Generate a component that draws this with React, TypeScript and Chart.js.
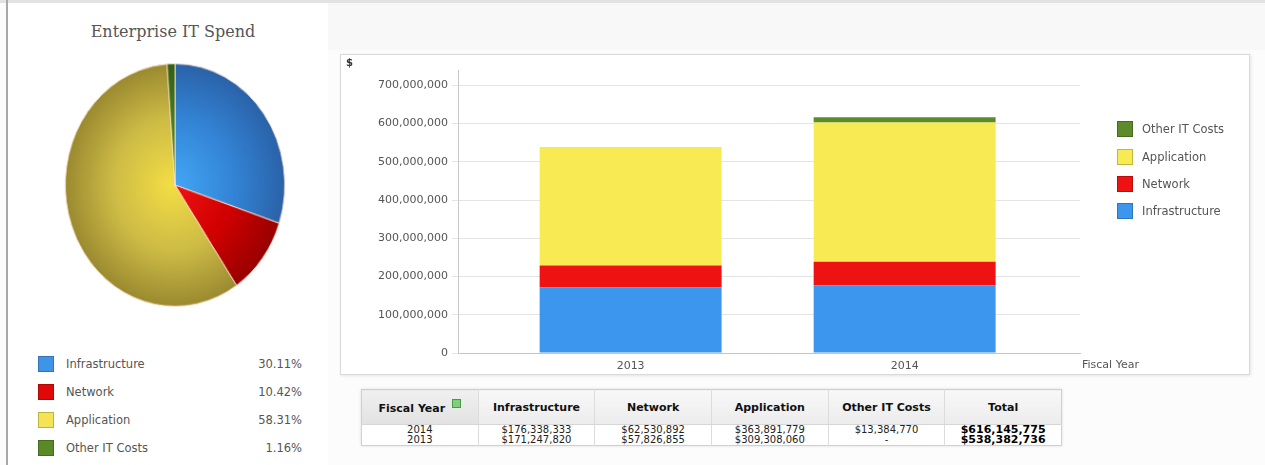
import React, { useEffect, useRef } from "react";
import { Chart, registerables } from "chart.js";

Chart.register(...registerables);

// Fiscal years shown on the bar chart's horizontal axis
const fiscalYears = ["2013", "2014"];

// Spend per cost category, one value per fiscal year (2013, 2014)
const infrastructureSpend = [171247820, 176338333];
const networkSpend = [57826855, 62530892];
const applicationSpend = [309308060, 363891779];
const otherItSpend: (number | null)[] = [null, 13384770];

// Totals as reported per fiscal year (2013, 2014)
const reportedTotals = [538382736, 616145775];

const categoryNames = ["Infrastructure", "Network", "Application", "Other IT Costs"];

// Value axis ticks
const yTickValues = [0, 100000000, 200000000, 300000000, 400000000, 500000000, 600000000, 700000000];

const seriesValues = [infrastructureSpend, networkSpend, applicationSpend, otherItSpend];

// Colours
const barColors = ["#3d96ee", "#ee1212", "#f8ea52", "#5d8a2a"];
const swatchColors = ["#3f94e6", "#e00808", "#f4e455", "#5a8a28"];
const pieInner = ["#44a8f6", "#f01414", "#f4de44", "#5c9a2c"];
const pieMid = ["#3384d6", "#d00000", "#cdbb46", "#467a20"];
const pieOuter = ["#2a62a8", "#980000", "#9a8a30", "#335f14"];

const FONT = '"DejaVu Sans", "Noto Sans", sans-serif';

const pieValues = seriesValues.map((arr) => arr.reduce((a: number, b) => a + (b ?? 0), 0));
const pieTotal = pieValues.reduce((a, b) => a + b, 0);

const money = (v: number | null) => (v == null ? "-" : "$" + v.toLocaleString("en-US"));

function SpendPie() {
  const ref = useRef<HTMLCanvasElement>(null);
  useEffect(() => {
    const chart = new Chart(ref.current!, {
      type: "pie",
      data: {
        labels: categoryNames,
        datasets: [
          {
            data: pieValues,
            backgroundColor: (ctx: any) => {
              const c = ctx.chart;
              const a = c.chartArea;
              const i = ctx.dataIndex;
              if (!a) return pieMid[i];
              const cx = (a.left + a.right) / 2;
              const cy = (a.top + a.bottom) / 2;
              const r = Math.min(a.width, a.height) / 2;
              const g = c.ctx.createRadialGradient(cx - 4, cy, 0, cx, cy, r);
              g.addColorStop(0, pieInner[i]);
              g.addColorStop(0.55, pieMid[i]);
              g.addColorStop(1, pieOuter[i]);
              return g;
            },
            borderColor: "rgba(255,226,206,0.85)",
            borderWidth: 1,
          },
        ],
      },
      options: {
        responsive: false,
        animation: false,
        layout: { padding: 0 },
        plugins: { legend: { display: false }, tooltip: { enabled: false } },
      },
    } as any);
    return () => chart.destroy();
  }, []);
  return (
    <canvas
      ref={ref}
      width={232}
      height={232}
      style={{ position: "absolute", left: 59, top: 69, transform: "scale(0.95,1.05)" }}
    />
  );
}

function SpendBars() {
  const ref = useRef<HTMLCanvasElement>(null);
  useEffect(() => {
    const tickFont = { family: FONT, size: 11 };
    const chart = new Chart(ref.current!, {
      type: "bar",
      data: {
        datasets: categoryNames.map((name, i) => ({
          label: name,
          data: fiscalYears.map((fy, j) => ({ x: Number(fy), y: seriesValues[i][j] })),
          backgroundColor: barColors[i],
          borderWidth: 0,
          categoryPercentage: 1,
          barPercentage: 0.664,
        })),
      },
      options: {
        responsive: false,
        animation: false,
        layout: { padding: { top: 15, right: 169, left: 0, bottom: 0 } },
        plugins: { legend: { display: false }, tooltip: { enabled: false } },
        scales: {
          x: {
            type: "linear",
            stacked: true,
            min: 2012.37,
            max: 2014.64,
            offset: false,
            afterBuildTicks: (s: any) => {
              s.ticks = fiscalYears.map((fy) => ({ value: Number(fy) }));
            },
            afterFit: (s: any) => {
              s.height = 21;
            },
            ticks: {
              callback: (v: any) => fiscalYears.find((fy) => Number(fy) === v) ?? "",
              font: tickFont,
              color: "#555",
              padding: 7,
              maxRotation: 0,
              autoSkip: false,
            },
            grid: { display: false, drawTicks: false, offset: false },
            border: { display: true, color: "#c4c4c4" },
          },
          y: {
            stacked: true,
            min: 0,
            max: 740000000,
            afterBuildTicks: (s: any) => {
              s.ticks = yTickValues.map((v) => ({ value: v }));
            },
            afterFit: (s: any) => {
              s.width = 117;
            },
            ticks: {
              callback: (v: any) => Number(v).toLocaleString("en-US"),
              font: tickFont,
              color: "#555",
              padding: 4,
            },
            grid: { color: "#e4e4e4", tickLength: 6, drawTicks: true },
            border: { display: true, color: "#c8c8c8" },
          },
        },
      },
    } as any);
    return () => chart.destroy();
  }, []);
  return (
    <canvas ref={ref} width={908} height={319} style={{ position: "absolute", left: 341, top: 55 }} />
  );
}

function Swatch({ color, left, top, size }: { color: string; left: number; top: number; size: number }) {
  return (
    <div
      style={{
        position: "absolute",
        left,
        top,
        width: size,
        height: size,
        boxSizing: "border-box",
        background: color,
        border: "1px solid rgba(0,0,0,0.22)",
      }}
    />
  );
}

export default function App() {
  const pieLegendRows = [364, 392, 420, 448];
  const barLegendRows = [129, 157, 184, 211];
  const barLegendOrder = [3, 2, 1, 0];
  const headerCell: React.CSSProperties = {
    fontWeight: "bold",
    fontSize: 11,
    color: "#111",
    background: "linear-gradient(#f8f8f8, #ececec)",
    borderRight: "1px solid #dcdcdc",
    borderBottom: "1px solid #d6d6d6",
    height: 34,
    padding: 0,
    textAlign: "center",
  };
  const dataCell: React.CSSProperties = {
    fontSize: 10,
    lineHeight: "10px",
    height: 10,
    padding: 0,
    color: "#222",
    textAlign: "center",
    borderRight: "1px solid #dcdcdc",
  };
  const rowOrder = fiscalYears.map((_, j) => j).reverse();

  return (
    <div
      style={{
        position: "absolute",
        left: 0,
        top: 0,
        width: 1265,
        height: 465,
        overflow: "hidden",
        background: "#fcfcfc",
        fontFamily: FONT,
      }}
    >
      <div style={{ position: "absolute", left: 0, top: 0, width: 1265, height: 3, background: "#e2e2e2" }} />
      <div style={{ position: "absolute", left: 328, top: 3, width: 937, height: 47, background: "#f8f8f8" }} />
      <div style={{ position: "absolute", left: 6, top: 0, width: 2, height: 465, background: "#a8a8a8" }} />
      <div style={{ position: "absolute", left: 8, top: 3, width: 320, height: 462, background: "#ffffff" }} />

      {/* Pie panel */}
      <div
        style={{
          position: "absolute",
          left: 0,
          top: 21,
          width: 346,
          textAlign: "center",
          fontFamily: '"DejaVu Serif", serif',
          fontSize: 16,
          lineHeight: "22px",
          color: "#555",
        }}
      >
        Enterprise IT Spend
      </div>
      <SpendPie />
      {categoryNames.map((name, i) => (
        <React.Fragment key={name}>
          <Swatch color={swatchColors[i]} left={38} top={pieLegendRows[i] - 8} size={16} />
          <div
            style={{
              position: "absolute",
              left: 66,
              top: pieLegendRows[i] - 8,
              fontSize: 11.5,
              lineHeight: "16px",
              color: "#555",
            }}
          >
            {name}
          </div>
          <div
            style={{
              position: "absolute",
              left: 202,
              width: 100,
              top: pieLegendRows[i] - 8,
              textAlign: "right",
              fontSize: 11.5,
              lineHeight: "16px",
              color: "#555",
            }}
          >
            {((pieValues[i] / pieTotal) * 100).toFixed(2)}%
          </div>
        </React.Fragment>
      ))}

      {/* Bar chart box */}
      <div
        style={{
          position: "absolute",
          left: 340,
          top: 54,
          width: 910,
          height: 321,
          boxSizing: "border-box",
          background: "#fff",
          border: "1px solid #d9d9d9",
          boxShadow: "1px 1px 3px rgba(0,0,0,0.10)",
        }}
      />
      <SpendBars />
      <div style={{ position: "absolute", left: 346, top: 57, fontSize: 10, fontWeight: "bold", color: "#333" }}>$</div>
      <div style={{ position: "absolute", left: 1082, top: 358, fontSize: 11, lineHeight: "14px", color: "#555" }}>
        Fiscal Year
      </div>
      {barLegendOrder.map((i, k) => (
        <React.Fragment key={categoryNames[i]}>
          <Swatch color={barColors[i]} left={1117} top={barLegendRows[k] - 8} size={16} />
          <div
            style={{
              position: "absolute",
              left: 1142,
              top: barLegendRows[k] - 8,
              fontSize: 11.5,
              lineHeight: "16px",
              color: "#555",
            }}
          >
            {categoryNames[i]}
          </div>
        </React.Fragment>
      ))}

      {/* Summary table */}
      <table
        style={{
          position: "absolute",
          left: 361,
          top: 389,
          width: 701,
          borderCollapse: "collapse",
          tableLayout: "fixed",
          background: "#fff",
          border: "1px solid #cfcfcf",
          boxShadow: "0 0 3px rgba(0,0,0,0.12)",
          fontFamily: FONT,
        }}
      >
        <thead>
          <tr>
            <th style={{ ...headerCell, background: "linear-gradient(#f0f0f0, #e2e2e2)" }}>
              Fiscal Year
              <span
                style={{
                  display: "inline-block",
                  width: 7,
                  height: 7,
                  marginLeft: 7,
                  verticalAlign: 4,
                  background: "#7fd07a",
                  border: "1px solid #4a9a44",
                }}
              />
            </th>
            {categoryNames.map((n) => (
              <th key={n} style={headerCell}>
                {n}
              </th>
            ))}
            <th style={{ ...headerCell, borderRight: "none" }}>Total</th>
          </tr>
        </thead>
        <tbody>
          {rowOrder.map((j) => (
            <tr key={fiscalYears[j]}>
              <td style={dataCell}>{fiscalYears[j]}</td>
              {seriesValues.map((arr, i) => (
                <td key={i} style={dataCell}>
                  {money(arr[j])}
                </td>
              ))}
              <td style={{ ...dataCell, fontWeight: "bold", fontSize: 11, color: "#000", borderRight: "none" }}>
                {money(reportedTotals[j])}
              </td>
            </tr>
          ))}
        </tbody>
      </table>
    </div>
  );
}
